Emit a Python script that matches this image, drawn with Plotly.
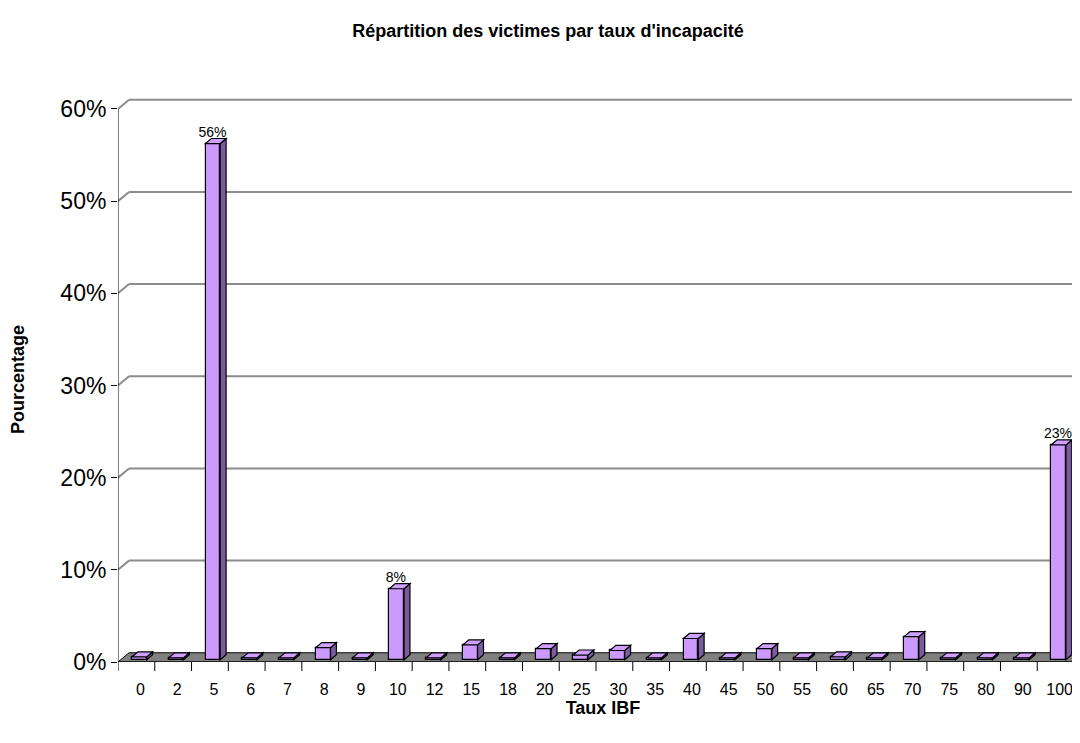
import plotly.graph_objects as go

# ---- data ----
categories = ["0", "2", "5", "6", "7", "8", "9", "10", "12", "15", "18", "20", "25",
              "30", "35", "40", "45", "50", "55", "60", "65", "70", "75", "80", "90", "100"]
percentages = [0.3, 0.2, 56.0, 0.2, 0.2, 1.3, 0.2, 7.7, 0.2, 1.6, 0.2, 1.2, 0.5,
               1.0, 0.2, 2.3, 0.2, 1.2, 0.2, 0.3, 0.2, 2.5, 0.2, 0.2, 0.2, 23.3]
y_ticks = [0, 10, 20, 30, 40, 50, 60]
y_tick_labels = ["0%", "10%", "20%", "30%", "40%", "50%", "60%"]
labelled = {"5": "56%", "10": "8%", "100": "23%"}

title = "Répartition des victimes par taux d'incapacité"
x_title = "Taux IBF"
y_title = "Pourcentage"

# ---- styling / geometry (pseudo 3D) ----
FRONT = "#CC99FF"
SIDE = "#7A5C9E"
TOP = "#CFA0FF"
GRID = "#8C8C8C"
FLOOR = "#808080"
FONT = "Liberation Sans, Arial, sans-serif"

n = len(categories)
floor_dx, floor_dy = 0.30, 1.0       # depth of the floor / walls (data units)
bar_dx, bar_dy = 0.16, 0.55          # depth of each bar
bar_w = 0.40
bar_shift = 0.08
bar_base = 0.25

text = [labelled.get(c, "") for c in categories]

fig = go.Figure()
fig.add_trace(go.Bar(
    x=list(range(n)), y=percentages, base=bar_base, width=bar_w,
    offset=-bar_w / 2 + bar_shift,
    marker=dict(color=FRONT, line=dict(color="black", width=1.2)),
    text=text, textposition="outside", cliponaxis=False, constraintext="none",
    textfont=dict(family=FONT, size=14, color="black"),
    hoverinfo="skip", showlegend=False,
))

shapes = []
# floor
x_left, x_right = -0.5, n - 0.5
shapes.append(dict(type="path", xref="x", yref="y", layer="below",
                   path=f"M{x_left},0 L{x_right},0 L{x_right + floor_dx},{floor_dy} "
                        f"L{x_left + floor_dx},{floor_dy} Z",
                   fillcolor=FLOOR, line=dict(color="black", width=1)))
# back gridlines with diagonal wall edge
for v in y_ticks[1:]:
    shapes.append(dict(type="line", xref="x", yref="y", layer="below",
                       x0=x_left + floor_dx, x1=x_right + floor_dx + 1,
                       y0=v + floor_dy, y1=v + floor_dy,
                       line=dict(color=GRID, width=2)))
    shapes.append(dict(type="line", xref="x", yref="y", layer="below",
                       x0=x_left, x1=x_left + floor_dx, y0=v, y1=v + floor_dy,
                       line=dict(color=GRID, width=2)))
# y axis line
shapes.append(dict(type="line", xref="x", yref="y", layer="above",
                   x0=x_left, x1=x_left, y0=0, y1=y_ticks[-1],
                   line=dict(color="black", width=1)))
# x axis front line
shapes.append(dict(type="line", xref="x", yref="y", layer="above",
                   x0=x_left, x1=x_right, y0=0, y1=0,
                   line=dict(color="black", width=1)))
shapes.append(dict(type="line", xref="x", yref="y", layer="above",
                   x0=x_right, x1=x_right + floor_dx, y0=0, y1=floor_dy,
                   line=dict(color="black", width=1)))
# 3D sides and tops of bars
for i, v in enumerate(percentages):
    x0 = i - bar_w / 2 + bar_shift
    x1 = i + bar_w / 2 + bar_shift
    y0 = bar_base
    y1 = bar_base + v
    shapes.append(dict(type="path", xref="x", yref="y", layer="above",
                       path=f"M{x1},{y0} L{x1 + bar_dx},{y0 + bar_dy} "
                            f"L{x1 + bar_dx},{y1 + bar_dy} L{x1},{y1} Z",
                       fillcolor=SIDE, line=dict(color="black", width=1.2)))
    shapes.append(dict(type="path", xref="x", yref="y", layer="above",
                       path=f"M{x0},{y1} L{x1},{y1} L{x1 + bar_dx},{y1 + bar_dy} "
                            f"L{x0 + bar_dx},{y1 + bar_dy} Z",
                       fillcolor=TOP, line=dict(color="black", width=1.2)))

# category boundary tick marks below the x axis
for i in range(n + 1):
    shapes.append(dict(type="line", xref="x", yref="paper", layer="above",
                       x0=i - 0.5, x1=i - 0.5, y0=0, y1=-0.016,
                       line=dict(color="black", width=1)))

px_per_cat = 36.8
x_max = x_right + (1088 - 1074) / px_per_cat

fig.update_layout(
    width=1080, height=743,
    paper_bgcolor="white", plot_bgcolor="white",
    margin=dict(l=110, r=0, t=89, b=89, autoexpand=False),
    shapes=shapes,
    bargap=0,
    title=dict(text=f"<b>{title}</b>", x=0.5, xanchor="center", y=0.970, yanchor="middle",
               font=dict(family=FONT, size=18, color="black")),
    font=dict(family=FONT, color="black"),
    xaxis=dict(
        range=[x_left, x_max], tickmode="array", tickvals=list(range(n)), ticktext=categories,
        showgrid=False, zeroline=False, showline=False, automargin=False,
        ticks="", tickfont=dict(family=FONT, size=16, color="black"),
        ticklabelstandoff=16, ticklabelshift=4,
        title=dict(text=f"<b>{x_title}</b>", font=dict(family=FONT, size=18, color="black"),
                   standoff=0),
        fixedrange=True,
    ),
    yaxis=dict(
        range=[0, 61.3], tickmode="array", tickvals=y_ticks, ticktext=y_tick_labels,
        showgrid=False, zeroline=False, showline=False, automargin=False,
        ticks="outside", ticklen=6, tickcolor="black", tickwidth=1,
        tickfont=dict(family=FONT, size=23, color="black"),
        title=dict(text=f"<b>{y_title}</b>", font=dict(family=FONT, size=18, color="black"),
                   standoff=31),
        fixedrange=True,
    ),
)

fig.write_html("out.html")
